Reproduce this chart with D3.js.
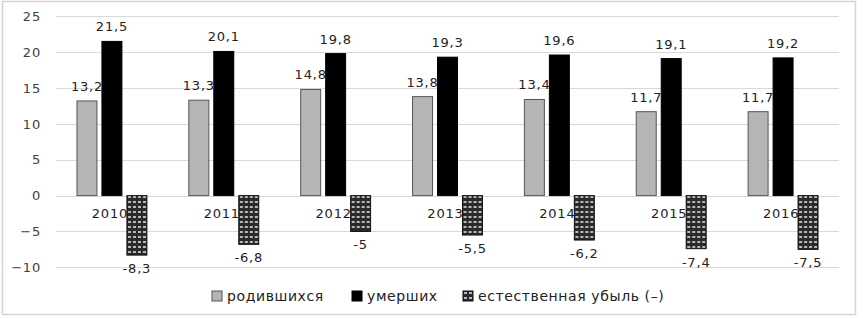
<!DOCTYPE html>
<html>
<head>
<meta charset="utf-8">
<script src="https://cdn.jsdelivr.net/npm/d3@7"></script>
<style>
  body { margin: 0; background: #fff; }
  svg { display: block; font-family: "DejaVu Sans", sans-serif; }
</style>
</head>
<body>
<svg id="chart"></svg>
<script>
const width = 863, height = 318;

// data
const years = ["2010", "2011", "2012", "2013", "2014", "2015", "2016"];
const born = [13.2, 13.3, 14.8, 13.8, 13.4, 11.7, 11.7];
const died = [21.5, 20.1, 19.8, 19.3, 19.6, 19.1, 19.2];
const natural = [-8.3, -6.8, -5, -5.5, -6.2, -7.4, -7.5];
const seriesNames = ["родившихся", "умерших", "естественная убыль (–)"];
const yTicks = [25, 20, 15, 10, 5, 0, -5, -10];

const svg = d3.select("#chart")
  .attr("width", width)
  .attr("height", height);

const defs = svg.append("defs");
const pat = defs.append("pattern")
  .attr("id", "brick")
  .attr("patternUnits", "userSpaceOnUse")
  .attr("width", 5).attr("height", 5);
pat.append("rect").attr("width", 5).attr("height", 5).attr("fill", "#2a2a2a");
pat.append("rect").attr("x", 1).attr("y", 1).attr("width", 3).attr("height", 2).attr("fill", "#b8b8b8");

// frame
svg.append("rect")
  .attr("x", 2.5).attr("y", 1.5)
  .attr("width", 853).attr("height", 313)
  .attr("fill", "#fff")
  .attr("stroke", "#d4d4d4")
  .attr("stroke-width", 1.5);

const plotLeft = 56, plotRight = 839;

const y = d3.scaleLinear()
  .domain([-10, 25])
  .range([267.3, 16.3]);

const x0 = d3.scaleBand()
  .domain(years)
  .range([plotLeft, plotRight])
  .paddingInner(0.375)
  .paddingOuter(0.1875);

const x1 = d3.scaleBand()
  .domain([0, 1, 2])
  .range([0, x0.bandwidth()])
  .paddingInner(0.2);

const fills = ["#b5b5b5", "#000000", "url(#brick)"];
const strokes = ["#555", "#000", "#111"];

// gridlines
svg.append("g")
  .selectAll("line")
  .data(yTicks)
  .join("line")
  .attr("x1", plotLeft).attr("x2", plotRight)
  .attr("y1", d => Math.round(y(d)) + 0.5)
  .attr("y2", d => Math.round(y(d)) + 0.5)
  .attr("stroke", "#d9d9d9")
  .attr("stroke-width", 1);

// y axis labels
const yAxis = d3.axisLeft(y).tickValues(yTicks).tickSize(0).tickPadding(0);
const yg = svg.append("g")
  .attr("transform", "translate(41,0)")
  .call(yAxis);
yg.select(".domain").remove();
yg.selectAll("text")
  .attr("font-size", 13)
  .attr("font-family", "DejaVu Sans, sans-serif")
  .attr("letter-spacing", 0.8)
  .attr("fill", "#404040");

// category labels (drawn under the bars)
svg.append("g")
  .selectAll("text")
  .data(years)
  .join("text")
  .attr("x", d => x0(d) + x0.bandwidth() / 2 - 2)
  .attr("y", 218)
  .attr("text-anchor", "middle")
  .attr("font-size", 13)
  .attr("letter-spacing", 0.8)
  .attr("fill", "#222")
  .text(d => d);

const rows = years.map((yr, i) => ({ yr, vals: [born[i], died[i], natural[i]] }));

const groups = svg.append("g")
  .selectAll("g")
  .data(rows)
  .join("g")
  .attr("transform", d => `translate(${x0(d.yr)},0)`);

groups.selectAll("rect")
  .data(d => d.vals.map((v, k) => ({ v, k })))
  .join("rect")
  .attr("x", d => x1(d.k))
  .attr("width", x1.bandwidth())
  .attr("y", d => y(Math.max(0, d.v)))
  .attr("height", d => Math.abs(y(d.v) - y(0)))
  .attr("fill", d => fills[d.k])
  .attr("stroke", d => strokes[d.k])
  .attr("stroke-width", 1);

groups.selectAll("text.val")
  .data(d => d.vals.map((v, k) => ({ v, k })))
  .join("text")
  .attr("class", "val")
  .attr("x", d => x1(d.k) + x1.bandwidth() / 2)
  .attr("y", d => d.v >= 0 ? y(d.v) - 10 : y(d.v) + 18)
  .attr("text-anchor", "middle")
  .attr("font-size", 13)
  .attr("letter-spacing", 0.8)
  .attr("fill", "#222")
  .text(d => String(d.v).replace(".", ","));

// legend
const legendX = [212, 352, 463];
const legend = svg.append("g")
  .selectAll("g")
  .data(seriesNames)
  .join("g")
  .attr("transform", (d, i) => `translate(${legendX[i]},291)`);
legend.append("rect")
  .attr("width", 10).attr("height", 10)
  .attr("fill", (d, i) => fills[i])
  .attr("stroke", (d, i) => strokes[i]);
legend.append("text")
  .attr("x", 15).attr("y", 10)
  .attr("font-size", 14)
  .attr("letter-spacing", 0.6)
  .attr("fill", "#222")
  .text(d => d);
</script>
</body>
</html>
